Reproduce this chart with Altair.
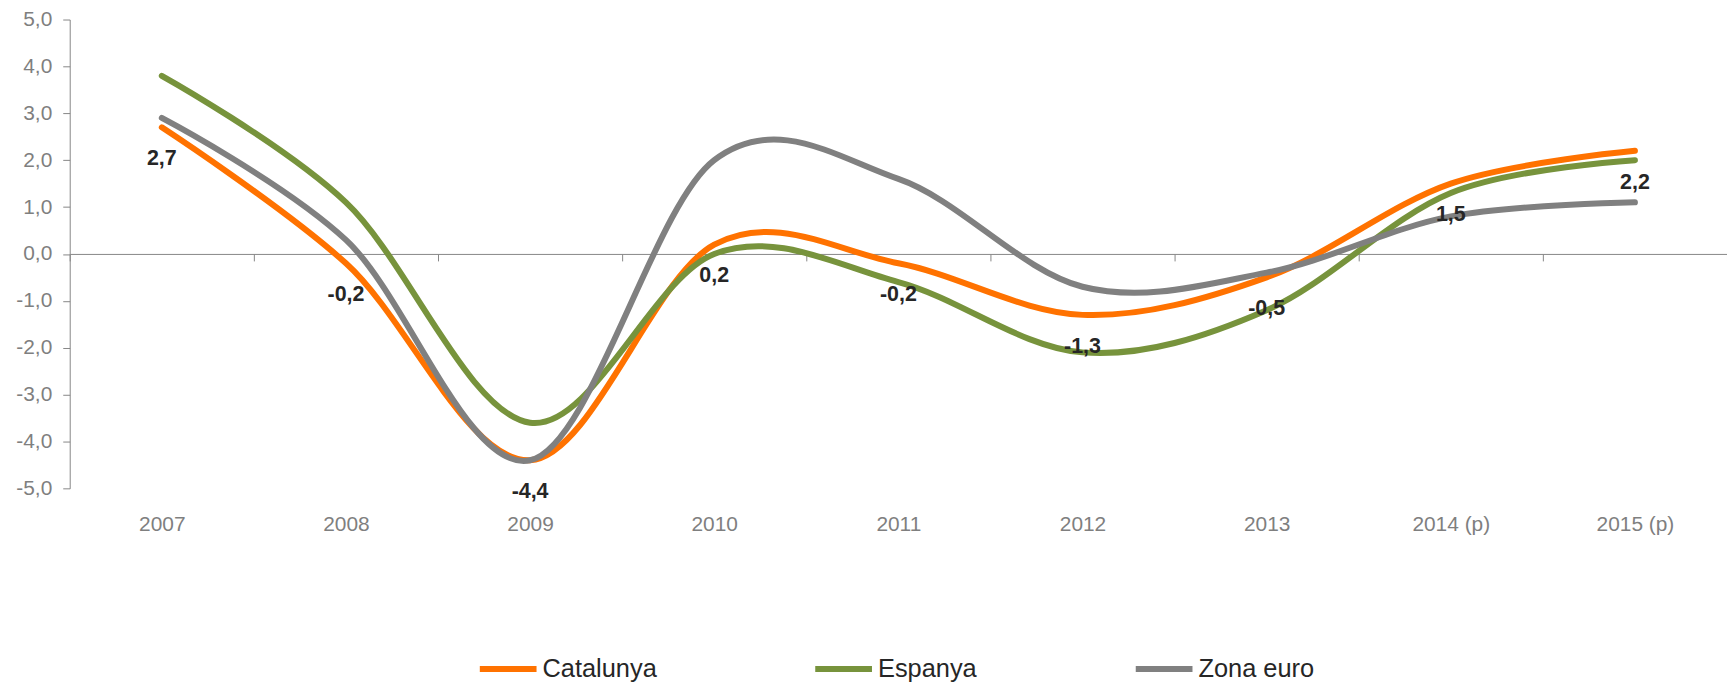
import altair as alt
import pandas as pd

years = ["2007", "2008", "2009", "2010", "2011", "2012", "2013", "2014 (p)", "2015 (p)"]
catalunya = [2.7, -0.2, -4.4, 0.2, -0.2, -1.3, -0.5, 1.5, 2.2]
espanya = [3.8, 1.1, -3.6, 0.0, -0.6, -2.1, -1.2, 1.3, 2.0]
zona_euro = [2.9, 0.3, -4.4, 2.0, 1.6, -0.7, -0.4, 0.8, 1.1]
series_names = ["Catalunya", "Espanya", "Zona euro"]
colors = ["#FF7200", "#77933C", "#808080"]
y_ticks = [-5, -4, -3, -2, -1, 0, 1, 2, 3, 4, 5]

rows = []
for name, vals in zip(series_names, [catalunya, espanya, zona_euro]):
    for yr, v in zip(years, vals):
        rows.append({"year": yr, "value": v, "serie": name})
df = pd.DataFrame(rows)

lab = pd.DataFrame({
    "year": years,
    "value": catalunya,
    "label": [f"{v:.1f}".replace(".", ",") for v in catalunya],
})

FONT = "Liberation Sans"
AXIS_GRAY = "#868686"
LABEL_GRAY = "#7F7F7F"

H = 471

x_scale = alt.Scale(type="band", domain=years, paddingInner=0, paddingOuter=0)
y_scale = alt.Scale(domain=[-5, 5], nice=False, zero=False)

x_enc = alt.X(
    "year:N", sort=years, scale=x_scale, bandPosition=0.5,
    axis=alt.Axis(
        title=None, offset=-H / 2, tickBand="extent", tickSize=7,
        labelPadding=254, labelAngle=0, grid=False,
        domainColor=AXIS_GRAY, tickColor=AXIS_GRAY,
        labelColor=LABEL_GRAY, labelFontSize=21, labelFont=FONT,
    ),
)
y_enc = alt.Y(
    "value:Q", scale=y_scale,
    axis=alt.Axis(
        title=None, values=y_ticks, grid=False, tickSize=7, labelPadding=11,
        domainColor=AXIS_GRAY, tickColor=AXIS_GRAY,
        labelColor=LABEL_GRAY, labelFontSize=21, labelFont=FONT,
        labelExpr="(datum.value < 0 ? '-' : '') + replace(format(abs(datum.value), '.1f'), '.', ',')",
    ),
)

lines = alt.Chart(df).mark_line(
    interpolate="cardinal", tension=0, strokeWidth=6, strokeCap="round"
).encode(
    x=x_enc,
    y=y_enc,
    color=alt.Color(
        "serie:N",
        scale=alt.Scale(domain=series_names, range=colors),
        sort=series_names,
        legend=alt.Legend(
            title=None, orient="none", legendX=409, legendY=621,
            direction="horizontal", columns=3, gridAlign="none",
            symbolType="stroke", symbolSize=3249, symbolStrokeWidth=6,
            labelFontSize=25.5, labelFont=FONT, labelColor="#262626",
            columnPadding=147, labelOffset=3, padding=0,
        ),
    ),
    order=alt.Order("year:N"),
)

labels = alt.Chart(lab).mark_text(
    dy=32, fontWeight="bold", fontSize=21.5, color="#262626", font=FONT, baseline="middle"
).encode(
    x=alt.X("year:N", sort=years, scale=x_scale, bandPosition=0.5),
    y=alt.Y("value:Q", scale=y_scale),
    text="label:N",
)

chart = alt.layer(lines, labels).properties(
    width=1665,
    height=H,
    autosize=alt.AutoSizeParams(type="none"),
    padding={"left": 62, "top": 10, "right": 0, "bottom": 195},
).configure_view(stroke=None)

chart.save("out.html", embed_options={"renderer": "svg", "actions": False})
